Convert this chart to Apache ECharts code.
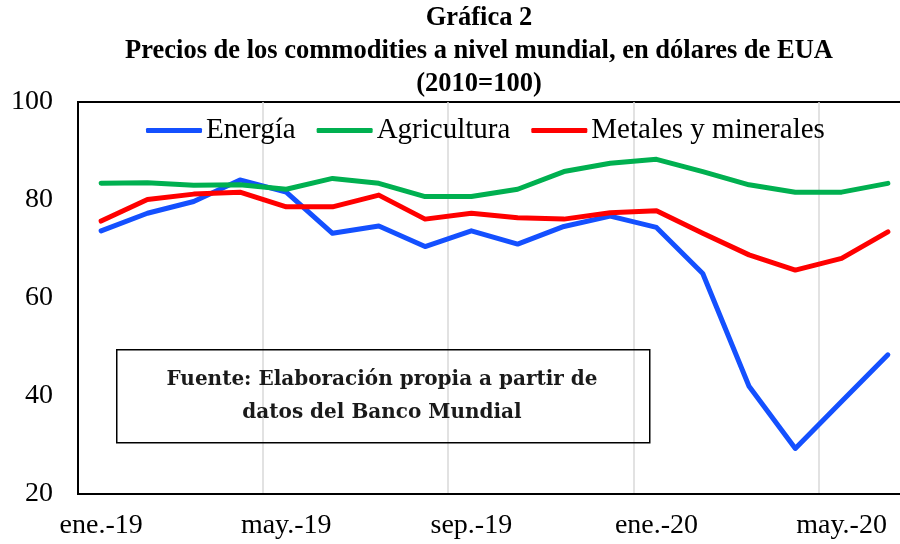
<!DOCTYPE html>
<html>
<head>
<meta charset="utf-8">
<script src="https://cdn.jsdelivr.net/npm/echarts@6/dist/echarts.min.js"></script>
<style>html,body{margin:0;padding:0;background:#fff}#c{width:900px;height:544px}</style>
</head>
<body>
<div id="c"></div>
<script>
const months = ['ene.-19','feb.-19','mar.-19','abr.-19','may.-19','jun.-19','jul.-19','ago.-19','sep.-19','oct.-19','nov.-19','dic.-19','ene.-20','feb.-20','mar.-20','abr.-20','may.-20','jun.-20'];
const energia = [73.7,77.3,79.7,84.1,81.6,73.2,74.7,70.5,73.7,71.0,74.6,76.7,74.4,65.0,42.0,29.3,38.9,48.4];
const agricultura = [83.4,83.5,83.0,83.1,82.2,84.4,83.4,80.7,80.7,82.2,85.8,87.5,88.3,85.8,83.1,81.6,81.6,83.4];
const metales = [75.7,80.1,81.2,81.6,78.6,78.6,81.0,76.1,77.3,76.4,76.1,77.4,77.8,73.2,68.8,65.7,68.1,73.5];
const yTicks = {min: 20, max: 100, step: 20};
const seriesNames = ['Energía','Agricultura','Metales y minerales'];
const titleLines = ['Gráfica 2','Precios de los commodities a nivel mundial, en dólares de EUA','(2010=100)'];
const noteLines = ['Fuente: Elaboración propia a partir de','datos del Banco Mundial'];

const serif = "'Liberation Serif','Times New Roman',serif";
const colors = ['#1450ff','#00b050','#ff0000'];
const chart = echarts.init(document.getElementById('c'), null, {renderer:'canvas'});
const mk = (name, data, color) => ({
  name, type:'line', data, symbol:'none', smooth:false,
  lineStyle:{width:5, color, cap:'round', join:'round'}, itemStyle:{color},
  emphasis:{disabled:true}
});
chart.setOption({
  animation:false,
  title:{
    text: titleLines.join('\n'), left: 474, top: -3, textAlign:'center',
    textStyle:{fontFamily:serif, fontWeight:'bold', fontSize:26.5, lineHeight:33, color:'#000'}
  },
  grid:{left:78, top:102, width:833, height:392, show:true, borderColor:'#000', borderWidth:2, backgroundColor:'transparent', outerBoundsMode:'none', containLabel:false},
  legend:{
    data: seriesNames, left:141, top:111, icon:'roundRect', itemWidth:56, itemHeight:5, itemGap:21,
    textStyle:{fontFamily:serif, fontSize:29, color:'#000', padding:[0,0,0,-1]}
  },
  xAxis:{
    type:'category', data: months, boundaryGap:true,
    axisLine:{show:true, lineStyle:{color:'#000', width:2}},
    axisTick:{show:false},
    axisLabel:{interval:3, margin:18, fontFamily:serif, fontSize:28, color:'#000'},
    splitLine:{show:true, interval:3, lineStyle:{color:'#d9d9d9', width:1.5}}
  },
  yAxis:{
    type:'value', min:yTicks.min, max:yTicks.max, interval:yTicks.step,
    axisLine:{show:true, lineStyle:{color:'#000', width:2}},
    axisTick:{show:false}, splitLine:{show:false},
    axisLabel:{margin:25, fontFamily:serif, fontSize:28, color:'#000'}
  },
  series:[mk(seriesNames[0], energia, colors[0]), mk(seriesNames[1], agricultura, colors[1]), mk(seriesNames[2], metales, colors[2])],
  graphic:[
    {type:'rect', left:116, top:349, shape:{width:533, height:93}, style:{fill:'transparent', stroke:'#000', lineWidth:1.5}, z:10},
    {type:'text', x:382, y:380, style:{text:noteLines[0], fontFamily:"'DejaVu Serif',serif", fontWeight:'bold', fontSize:20, fill:'#1a1a1a', align:'center', verticalAlign:'middle'}, z:11},
    {type:'text', x:382, y:413, style:{text:noteLines[1], fontFamily:"'DejaVu Serif',serif", fontWeight:'bold', fontSize:20, fill:'#1a1a1a', align:'center', verticalAlign:'middle'}, z:11}
  ]
});
</script>
</body>
</html>
